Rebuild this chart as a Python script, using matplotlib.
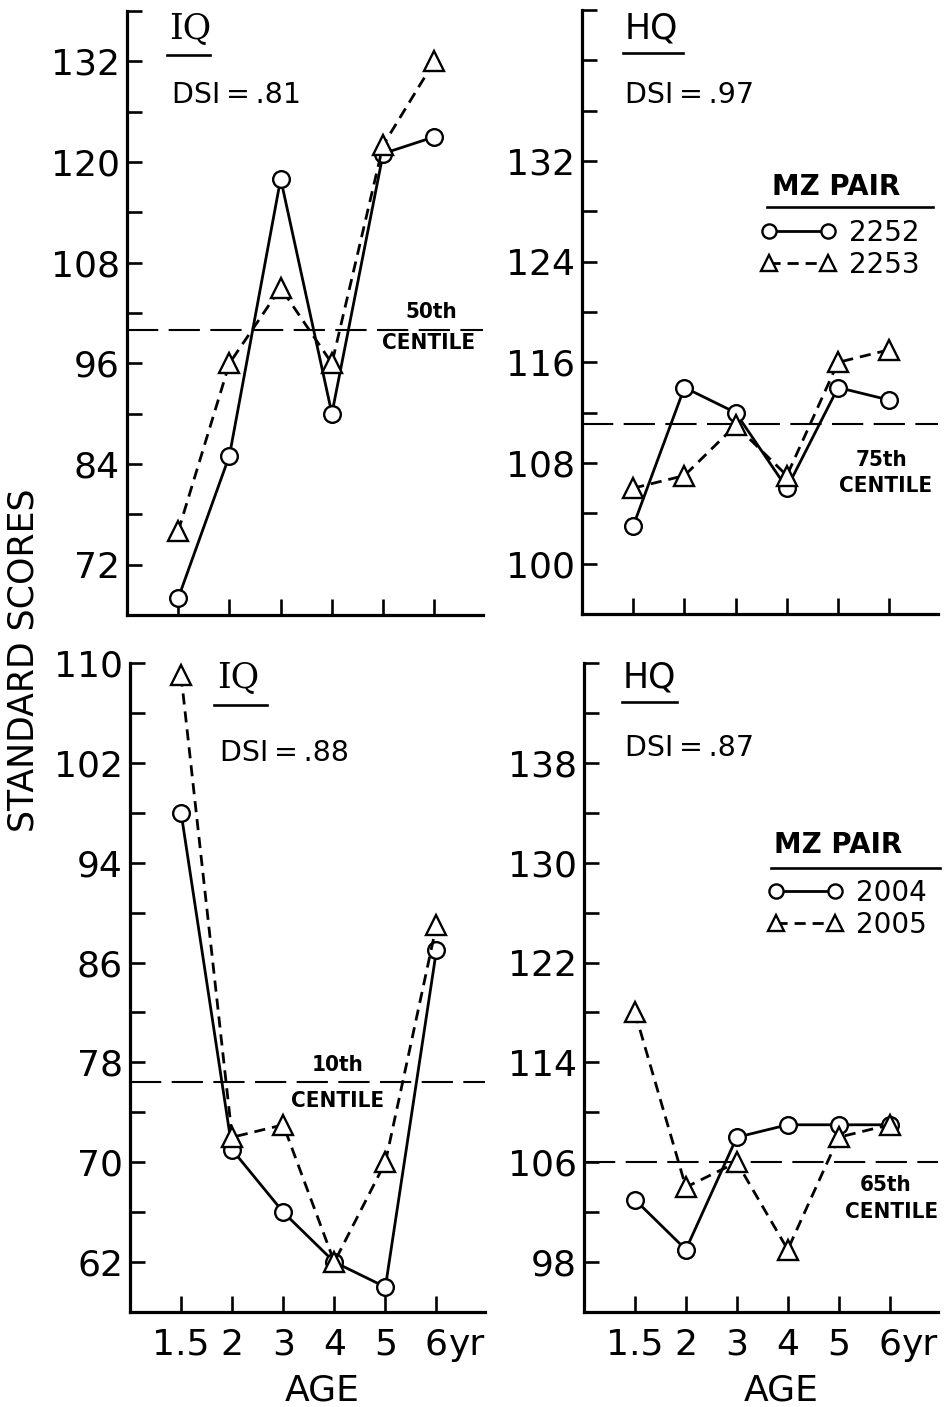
import matplotlib
matplotlib.use('Agg')
import matplotlib.pyplot as plt
from matplotlib import font_manager
import numpy as np

# ages at which the twins were tested (equally spaced on the chart)
ages = ['1.5', '2', '3', '4', '5', '6']

# MZ pair 2252 / 2253
iq_2252 = [68, 85, 118, 90, 121, 123]
iq_2253 = [76, 96, 105, 96, 122, 132]
hq_2252 = [103, 114, 112, 106, 114, 113]
hq_2253 = [106, 107, 111, 107, 116, 117]

# MZ pair 2004 / 2005
iq_2004 = [98, 71, 66, 62, 60, 87]
iq_2005 = [109, 72, 73, 62, 70, 89]
hq_2004 = [103, 99, 108, 109, 109, 109]
hq_2005 = [118, 104, 106, 99, 108, 109]

centile_vals = [100, 111.1, 76.4, 106]
centile_names = ['50th', '75th', '10th', '65th']
dsi = ['.81', '.97', '.88', '.87']

W, H = 949, 1407
fig = plt.figure(figsize=(W / 100, H / 100), dpi=100)

names = {f.name for f in font_manager.fontManager.ttflist}
narrow = 'Liberation Sans Narrow' if 'Liberation Sans Narrow' in names else 'DejaVu Sans'


def px_rect(l, t, r, b):
    return [l / W, 1 - b / H, (r - l) / W, (b - t) / H]


panels = [
    dict(rect=px_rect(127, 11, 483, 615), ylim=(66, 138), step=6, lab=(72, 132, 12),
         title='IQ', tfam='DejaVu Serif', data=(iq_2252, iq_2253), pair=None,
         tpos=(0.177, 0.970), ul=(0.112, 0.233, 0.927), dpos=(0.126, 0.861),
         cpos=((0.854, 0.502), (0.846, 0.450)), xlab=False),
    dict(rect=px_rect(582, 10, 938, 614), ylim=(96, 144), step=4, lab=(100, 132, 8),
         title='HQ', tfam='DejaVu Sans', data=(hq_2252, hq_2253), pair=('2252', '2253'),
         tpos=(0.194, 0.970), ul=(0.115, 0.284, 0.929), dpos=(0.121, 0.859),
         cpos=((0.84, 0.255), (0.854, 0.212)), xlab=False,
         leg=dict(title=(0.534, 0.707), ul=(0.520, 0.986, 0.674), anchor=(0.503, 0.654))),
    dict(rect=px_rect(130, 663, 485, 1312), ylim=(58, 110), step=4, lab=(62, 110, 8),
         title='IQ', tfam='DejaVu Serif', data=(iq_2004, iq_2005), pair=None,
         tpos=(0.304, 0.977), ul=(0.237, 0.386, 0.935), dpos=(0.254, 0.861),
         cpos=((0.586, 0.381), (0.586, 0.325)), xlab=True, agex=0.541),
    dict(rect=px_rect(584, 663, 938, 1312), ylim=(94, 146), step=4, lab=(98, 138, 8),
         title='HQ', tfam='DejaVu Sans', data=(hq_2004, hq_2005), pair=('2004', '2005'),
         tpos=(0.184, 0.977), ul=(0.107, 0.263, 0.94), dpos=(0.117, 0.869),
         cpos=((0.852, 0.196), (0.87, 0.154)), xlab=True, agex=0.556,
         leg=dict(title=(0.537, 0.72), ul=(0.528, 1.006, 0.684), anchor=(0.52, 0.667))),
]

x = np.arange(len(ages))

for i, p in enumerate(panels):
    ax = fig.add_axes(p['rect'])
    a, b = p['data']
    la, = ax.plot(x, a, color='black', lw=2.0, marker='o', ms=12, mfc='white',
                  mec='black', mew=1.7, clip_on=False, zorder=3)
    lb, = ax.plot(x, b, color='black', lw=2.0, ls=(0, (4, 2.5)), marker='^', ms=14,
                  mfc='white', mec='black', mew=1.7, clip_on=False, zorder=3)
    ax.axhline(centile_vals[i], color='black', lw=1.5, ls=(0, (15, 5)), zorder=1)

    ax.set_xlim(-1, 5.95)
    ax.set_ylim(*p['ylim'])
    ax.spines[['top', 'right']].set_visible(False)
    for s in ['left', 'bottom']:
        ax.spines[s].set_linewidth(2.3)

    yt = np.arange(p['ylim'][0], p['ylim'][1] + 0.1, p['step'])
    lo, hi, st = p['lab']
    ax.set_yticks(yt)
    ax.set_yticklabels([str(int(v)) if (lo <= v <= hi and (v - lo) % st == 0) else '' for v in yt])
    ax.tick_params(axis='y', direction='in', length=11, width=1.9, labelsize=26, pad=5)
    ax.set_xticks(x)
    ax.tick_params(axis='x', direction='in', length=11.5, width=1.9, labelsize=26, pad=11.5)
    if p['xlab']:
        ax.set_xticklabels(ages)
        ax.annotate('yr', xy=(5, 0), xycoords=('data', 'axes fraction'), xytext=(9, -31),
                    textcoords='offset points', ha='left', va='baseline', fontsize=26)
        ax.set_xlabel('AGE', fontsize=26)
        ax.xaxis.set_label_coords(p['agex'], -0.094)
    else:
        ax.tick_params(axis='x', labelbottom=False)

    # panel title, underline and DSI
    ax.text(*p['tpos'], p['title'], transform=ax.transAxes, ha='center', va='center',
            fontsize=25, family=p['tfam'])
    u0, u1, uy = p['ul']
    ax.plot([u0, u1], [uy, uy], transform=ax.transAxes, color='black', lw=1.9, clip_on=False)
    ax.text(*p['dpos'], 'DSI\u2009=\u2009' + dsi[i], transform=ax.transAxes, ha='left',
            va='center', fontsize=20.5)

    # centile label
    (c1x, c1y), (c2x, c2y) = p['cpos']
    ax.text(c1x, c1y, centile_names[i], transform=ax.transAxes, ha='center', va='center',
            fontsize=16, fontweight='bold', family=narrow, fontstretch='condensed')
    ax.text(c2x, c2y, 'CENTILE', transform=ax.transAxes, ha='center', va='center',
            fontsize=16, fontweight='bold', family=narrow, fontstretch='condensed')

    if p['pair']:
        lg = p['leg']
        ax.text(*lg['title'], 'MZ PAIR', transform=ax.transAxes, ha='left', va='center',
                fontsize=20, fontweight='bold')
        u0, u1, uy = lg['ul']
        ax.plot([u0, u1], [uy, uy], transform=ax.transAxes, color='black', lw=1.9,
                clip_on=False)
        ax.legend([la, lb], list(p['pair']), loc='upper left', bbox_to_anchor=lg['anchor'],
                  bbox_transform=ax.transAxes, frameon=False, numpoints=2, borderpad=0,
                  borderaxespad=0, handlelength=2.7, handletextpad=0.45, labelspacing=0.13,
                  markerscale=0.85, fontsize=20)

fig.text(24 / W, 1 - 660 / H, 'STANDARD SCORES', rotation=90, ha='center', va='center',
         fontsize=25)

plt.savefig('out.png', dpi=100)
